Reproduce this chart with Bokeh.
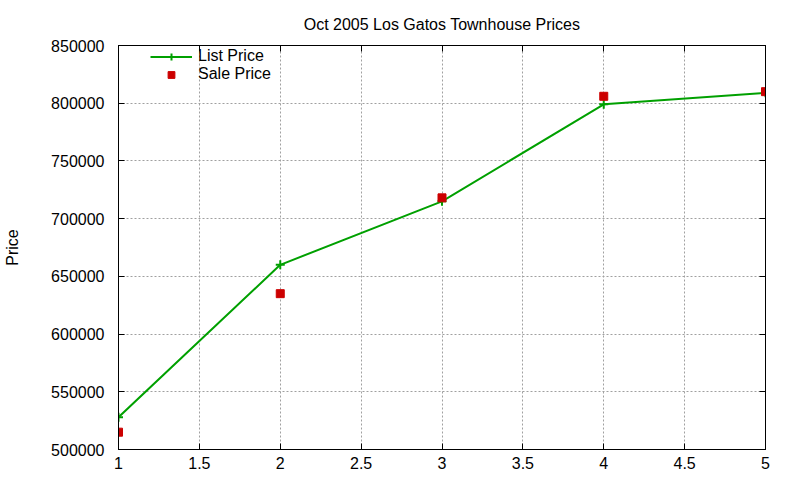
from bokeh.plotting import figure
from bokeh.models import (Range1d, SingleIntervalTicker, BasicTickFormatter, LinearAxis,
                          Legend, LegendItem)
from bokeh.embed import file_html
from bokeh.resources import INLINE

x_vals = [1, 2, 3, 4, 5]
list_price = [528000, 660000, 715000, 799000, 809000]
sale_price = [515000, 635000, 718000, 806000, 810000]
title_text = "Oct 2005 Los Gatos Townhouse Prices"
y_label = "Price"

FONT = "Liberation Sans"
GREEN = "#00a000"
RED = "#cc0000"

p = figure(width=800, height=480, output_backend="svg", toolbar_location=None,
           x_range=Range1d(1, 5), y_range=Range1d(500000, 850000),
           min_border_left=118, min_border_right=35, min_border_top=45, min_border_bottom=31,
           background_fill_color="white", border_fill_color="white")
p.outline_line_color = "black"
p.outline_line_width = 1

p.title.text = title_text
p.title.text_font = FONT
p.title.text_font_size = "16px"
p.title.text_font_style = "normal"
p.title.align = "center"
p.title.text_color = "black"
p.title.standoff = 18

xt = SingleIntervalTicker(interval=0.5)
yt = SingleIntervalTicker(interval=50000)

def style_axis(ax, labels=True):
    ax.axis_line_color = "black"
    ax.major_tick_in = 6
    ax.major_tick_out = 0
    ax.major_tick_line_color = "black"
    ax.minor_tick_line_color = None
    ax.major_label_text_font = FONT
    ax.major_label_text_font_size = "16px"
    ax.major_label_text_color = "black"
    if not labels:
        ax.major_label_text_color = None
        ax.major_label_text_font_size = "1px"
        ax.major_label_standoff = 0

xa = p.xaxis[0]
xa.ticker = xt
style_axis(xa)
xa.major_label_standoff = 3

ya = p.yaxis[0]
ya.ticker = yt
ya.formatter = BasicTickFormatter(use_scientific=False)
style_axis(ya)
ya.major_label_standoff = 10
ya.axis_label = y_label
ya.axis_label_text_font = FONT
ya.axis_label_text_font_size = "16px"
ya.axis_label_text_font_style = "normal"
ya.axis_label_text_color = "black"
ya.axis_label_standoff = 27

ra = LinearAxis(ticker=yt)
style_axis(ra, labels=False)
p.add_layout(ra, "right")
ta = LinearAxis(ticker=xt)
style_axis(ta, labels=False)
p.add_layout(ta, "above")

p.xgrid.ticker = xt
p.ygrid.ticker = yt
for g in (p.xgrid[0], p.ygrid[0]):
    g.grid_line_color = "#a0a0a0"
    g.grid_line_dash = "2 2"
    g.grid_line_width = 1

ln = p.line(x_vals, list_price, line_color=GREEN, line_width=2)
mk = p.scatter(x_vals, list_price, marker="cross", size=9, line_color=GREEN, line_width=2)
sq = p.scatter(x_vals, sale_price, marker="square", size=8, fill_color=RED, line_color=RED)

legend = Legend(items=[LegendItem(label="List Price", renderers=[ln, mk]),
                       LegendItem(label="Sale Price", renderers=[sq])],
                location=(32, 366), background_fill_alpha=0, border_line_color=None,
                label_text_font=FONT, label_text_font_size="16px", label_text_color="black",
                glyph_width=42, glyph_height=17, label_height=17, spacing=0, padding=0,
                margin=0, label_standoff=6)
p.add_layout(legend)

open("out.html", "w").write(file_html(p, INLINE))
